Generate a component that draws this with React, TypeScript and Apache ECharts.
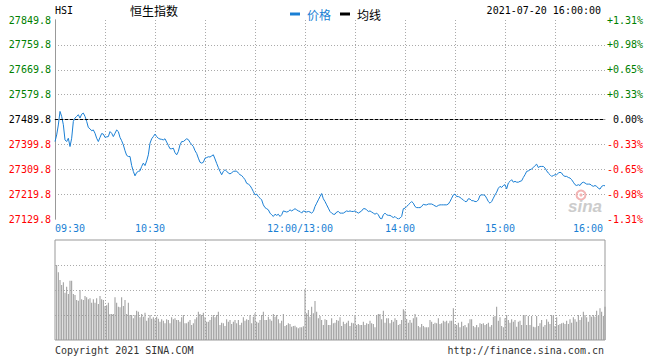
import { useEffect, useRef } from "react";
import * as echarts from "echarts";

const PREV_CLOSE = 27489.8;

// minute index (lunch break removed): 0 = 09:30 ... 150 = 12:00/13:00 ... 330 = 16:00
const TICK_POS = [0, 60, 150, 210, 270, 330];
const TICK_TEXT = ["09:30", "10:30", "12:00/13:00", "14:00", "15:00", "16:00"];

const PRICE = [
  27410, 27434, 27470, 27519, 27501, 27471, 27416, 27410, 27422, 27392,
  27422, 27483, 27495, 27501, 27507, 27495, 27509, 27513, 27501, 27483,
  27461, 27456, 27449, 27452, 27440, 27422, 27410, 27425, 27439, 27437,
  27425, 27427, 27428, 27446, 27440, 27428, 27440, 27452, 27446, 27425,
  27413, 27398, 27377, 27360, 27356, 27356, 27323, 27302, 27286, 27298,
  27302, 27304, 27320, 27332, 27323, 27340, 27362, 27404, 27420, 27428,
  27437, 27428, 27422, 27419, 27418, 27416, 27420, 27408, 27396, 27384,
  27384, 27386, 27370, 27362, 27374, 27398, 27410, 27410, 27415, 27420,
  27417, 27407, 27399, 27392, 27377, 27367, 27350, 27335, 27332, 27335,
  27350, 27352, 27355, 27354, 27358, 27362, 27347, 27331, 27316, 27302,
  27290, 27302, 27308, 27303, 27296, 27293, 27297, 27302, 27303, 27303,
  27296, 27290, 27287, 27280, 27272, 27259, 27256, 27251, 27241, 27229,
  27217, 27220, 27211, 27205, 27199, 27181, 27171, 27167, 27163, 27151,
  27145, 27139, 27147, 27143, 27147, 27139, 27145, 27159, 27157, 27155,
  27157, 27163, 27159, 27163, 27167, 27163, 27159, 27157, 27151, 27159,
  27157, 27155, 27157, 27155, 27151, 27157, 27175, 27187, 27199, 27211,
  27222, 27203, 27193, 27181, 27169, 27157, 27151, 27147, 27147, 27155,
  27157, 27151, 27151, 27151, 27155, 27159, 27157, 27159, 27157, 27157,
  27159, 27155, 27151, 27155, 27159, 27167, 27167, 27163, 27157, 27159,
  27155, 27151, 27147, 27151, 27145, 27133, 27130, 27145, 27151, 27145,
  27143, 27143, 27139, 27135, 27139, 27133, 27129.8, 27133, 27139, 27167,
  27169, 27175, 27181, 27187, 27193, 27187, 27175, 27171, 27171, 27171,
  27175, 27183, 27181, 27181, 27184, 27184, 27184, 27181, 27177, 27175,
  27179, 27181, 27181, 27181, 27181, 27181, 27184, 27193, 27205, 27217,
  27220, 27211, 27211, 27208, 27203, 27199, 27193, 27193, 27203, 27202,
  27196, 27196, 27193, 27193, 27199, 27215, 27217, 27217, 27215, 27205,
  27193, 27187, 27193, 27205, 27217, 27227, 27241, 27248, 27244, 27251,
  27254, 27239, 27260, 27266, 27272, 27263, 27266, 27263, 27263, 27266,
  27268, 27280, 27290, 27302, 27304, 27308, 27311, 27316, 27323, 27328,
  27316, 27320, 27320, 27320, 27314, 27304, 27296, 27290, 27284, 27287,
  27290, 27290, 27296, 27299, 27296, 27287, 27284, 27284, 27280, 27278,
  27272, 27263, 27254, 27251, 27254, 27251, 27260, 27263, 27260, 27256,
  27256, 27256, 27251, 27248, 27251, 27248, 27241, 27238, 27248, 27251, 27250,
];

// volume per minute, minutes 1..330
const VOLUME = [
  300, 271, 240, 220, 231, 189, 213, 184, 237, 237,
  184, 180, 160, 157, 200, 163, 160, 176, 171, 163,
  167, 149, 163, 149, 167, 144, 176, 163, 160, 136,
  139, 149, 104, 104, 104, 171, 149, 133, 131, 171,
  136, 160, 104, 149, 100, 100, 87, 100, 117, 113,
  91, 104, 93, 109, 77, 89, 100, 85, 91, 83,
  93, 85, 73, 83, 77, 67, 83, 80, 67, 91,
  83, 87, 80, 80, 73, 91, 100, 67, 67, 73,
  80, 60, 67, 83, 91, 113, 104, 100, 109, 91,
  73, 73, 80, 93, 100, 91, 100, 113, 60, 69,
  67, 56, 83, 73, 80, 64, 73, 80, 67, 80,
  60, 69, 91, 77, 83, 80, 100, 67, 93, 107,
  73, 69, 80, 100, 113, 80, 80, 93, 83, 77,
  104, 93, 100, 83, 67, 77, 104, 56, 60, 67,
  64, 53, 56, 57, 51, 47, 51, 51, 55, 203,
  107, 120, 93, 133, 107, 156, 113, 87, 96, 80,
  60, 83, 80, 60, 60, 87, 67, 69, 80, 77,
  91, 56, 73, 64, 69, 77, 56, 69, 67, 100,
  60, 64, 60, 60, 73, 60, 67, 64, 77, 67,
  64, 51, 100, 104, 104, 83, 117, 69, 87, 87,
  67, 80, 73, 87, 80, 60, 64, 80, 123, 117,
  84, 69, 80, 69, 87, 104, 91, 56, 51, 64,
  56, 51, 51, 51, 80, 73, 64, 69, 67, 87,
  64, 67, 77, 73, 77, 67, 77, 77, 127, 64,
  60, 69, 51, 73, 56, 60, 51, 67, 83, 83,
  56, 51, 60, 51, 67, 64, 67, 60, 64, 69,
  53, 60, 93, 96, 133, 77, 91, 56, 51, 87,
  100, 80, 69, 83, 73, 80, 53, 73, 77, 60,
  100, 100, 60, 96, 60, 96, 53, 51, 96, 56,
  67, 80, 53, 60, 83, 73, 64, 100, 96, 56,
  91, 60, 64, 67, 69, 64, 77, 64, 83, 69,
  91, 83, 73, 100, 80, 91, 113, 100, 91, 73,
  100, 93, 100, 93, 117, 96, 127, 113, 96, 133,
];

const BLUE = "#1a7fd4";
const GREEN = "#008000";
const RED = "#ff0000";
const GRAY = "#999999";
const MONO = '"DejaVu Sans Mono", monospace';
const CJK = '"Noto Sans CJK SC", sans-serif';

const dotted = { color: "#aaaaaa", type: [1, 2] as number[], width: 1 };

function signColor(v: number) {
  if (v > 0.001) return GREEN;
  if (v < -0.001) return RED;
  return "#000000";
}

export default function App() {
  const ref = useRef<HTMLDivElement>(null);

  useEffect(() => {
    if (!ref.current) return;
    const chart = echarts.init(ref.current, null, { renderer: "svg" });

    const labelRich = {
      first: { padding: [0, 0, 0, 30], color: BLUE, fontFamily: MONO, fontSize: 10 },
      mid: { padding: [0, 10, 0, 0], color: BLUE, fontFamily: MONO, fontSize: 10 },
      last: { padding: [0, 34, 0, 0], color: BLUE, fontFamily: MONO, fontSize: 10 },
    };

    const option: any = {
      animation: false,
      backgroundColor: "#ffffff",
      legend: {
        left: 285,
        top: 3,
        icon: "rect",
        itemWidth: 10,
        itemHeight: 3,
        itemGap: 9,
        selectedMode: false,
        textStyle: { fontSize: 12, fontFamily: CJK, padding: [0, 0, 0, 2] },
        data: [
          { name: "价格", textStyle: { color: BLUE } },
          { name: "均线", textStyle: { color: "#000000" } },
        ],
      },
      grid: [
        { left: 55, top: 20, width: 550, height: 199, show: false },
        {
          left: 55,
          top: 240,
          width: 550,
          height: 100,
          show: true,
          borderColor: GRAY,
          borderWidth: 1,
          backgroundColor: "transparent",
        },
      ],
      xAxis: [
        {
          type: "value",
          gridIndex: 0,
          position: "bottom",
          min: 0,
          max: 330,
          interval: 30,
          axisLine: { show: false },
          axisTick: { show: false },
          splitLine: { show: true, showMinLine: false, showMaxLine: false, lineStyle: dotted },
          axisLabel: {
            show: true,
            margin: 4,
            color: BLUE,
            fontFamily: MONO,
            fontSize: 10,
            formatter: (v: number) => {
              const k = TICK_POS.indexOf(Math.round(v));
              if (k < 0) return "";
              const s = k === 0 ? "first" : k === TICK_POS.length - 1 ? "last" : "mid";
              return `{${s}|${TICK_TEXT[k]}}`;
            },
            rich: labelRich,
          },
        },
        {
          type: "value",
          gridIndex: 0,
          position: "top",
          min: 0,
          max: 330,
          axisLine: { show: true, lineStyle: { color: GRAY, width: 1 } },
          axisTick: { show: false },
          axisLabel: { show: false },
          splitLine: { show: false },
        },
        {
          type: "value",
          gridIndex: 1,
          min: 0,
          max: 330,
          interval: 30,
          axisLine: { show: false },
          axisTick: { show: false },
          axisLabel: { show: false },
          splitLine: { show: true, showMinLine: false, showMaxLine: false, lineStyle: dotted },
        },
      ],
      yAxis: [
        {
          type: "value",
          gridIndex: 0,
          position: "left",
          min: -360,
          max: 360,
          interval: 90,
          axisLine: { show: true, lineStyle: { color: GRAY, width: 1 } },
          axisTick: { show: false },
          splitLine: { show: true, showMinLine: false, showMaxLine: false, lineStyle: dotted },
          axisLabel: {
            margin: 4,
            fontFamily: MONO,
            fontSize: 10,
            padding: [0, 0, 5, 0],
            formatter: (v: number) => (PREV_CLOSE + v).toFixed(1),
            color: (val: any) => signColor(parseFloat(val)),
          },
        },
        {
          type: "value",
          gridIndex: 0,
          position: "right",
          min: -360,
          max: 360,
          interval: 90,
          axisLine: { show: true, lineStyle: { color: GRAY, width: 1 } },
          axisTick: { show: false },
          splitLine: { show: false },
          axisLabel: {
            margin: 38,
            align: "right",
            fontFamily: MONO,
            fontSize: 10,
            padding: [0, 0, 5, 0],
            formatter: (v: number) => {
              const p = (v / PREV_CLOSE) * 100;
              const s = Math.abs(p).toFixed(2) + "%";
              if (Math.abs(v) < 0.001) return "0.00%";
              return (p > 0 ? "+" : "-") + s;
            },
            color: (val: any) => signColor(parseFloat(val)),
          },
        },
        {
          type: "value",
          gridIndex: 1,
          min: 0,
          max: 400,
          interval: 100,
          axisLine: { show: false },
          axisTick: { show: false },
          axisLabel: { show: false },
          splitLine: { show: true, showMinLine: false, showMaxLine: false, lineStyle: dotted },
        },
      ],
      series: [
        {
          name: "价格",
          type: "line",
          xAxisIndex: 0,
          yAxisIndex: 0,
          data: PRICE.map((p, i) => [i, +(p - PREV_CLOSE).toFixed(2)]),
          showSymbol: false,
          symbol: "none",
          lineStyle: { color: BLUE, width: 1 },
          itemStyle: { color: BLUE },
          z: 3,
          markLine: {
            silent: true,
            symbol: ["none", "none"],
            label: { show: false },
            lineStyle: { color: "#000000", type: [3, 2], width: 1 },
            data: [{ yAxis: 0 }],
          },
        },
        {
          name: "均线",
          type: "line",
          xAxisIndex: 0,
          yAxisIndex: 0,
          data: [],
          showSymbol: false,
          lineStyle: { color: "#000000", width: 1 },
          itemStyle: { color: "#000000" },
        },
        {
          name: "成交量",
          type: "bar",
          xAxisIndex: 2,
          yAxisIndex: 2,
          barWidth: 1,
          silent: true,
          itemStyle: { color: GRAY },
          data: VOLUME.map((v, k) => [k + 1, v]),
        },
      ],
      graphic: [
        {
          type: "text",
          x: 55,
          y: 10,
          style: { text: "HSI", font: `10px ${MONO}`, fill: "#000", align: "left", verticalAlign: "middle", textAlign: "left", textVerticalAlign: "middle" },
        },
        {
          type: "text",
          x: 130,
          y: 10,
          style: { text: "恒生指数", font: `12px ${CJK}`, fill: "#000", align: "left", verticalAlign: "middle", textAlign: "left", textVerticalAlign: "middle" },
        },
        {
          type: "text",
          x: 601,
          y: 10,
          style: { text: "2021-07-20 16:00:00", font: `10px ${MONO}`, fill: "#000", align: "right", verticalAlign: "middle", textAlign: "right", textVerticalAlign: "middle" },
        },
        {
          type: "text",
          x: 55,
          y: 350,
          style: { text: "Copyright 2021 SINA.COM", font: `10px ${MONO}`, fill: "#333", align: "left", verticalAlign: "middle", textAlign: "left", textVerticalAlign: "middle" },
        },
        {
          type: "text",
          x: 604,
          y: 350,
          style: { text: "http://finance.sina.com.cn", font: `10px ${MONO}`, fill: "#333", align: "right", verticalAlign: "middle", textAlign: "right", textVerticalAlign: "middle" },
        },
        {
          type: "circle",
          shape: { cx: 581, cy: 195, r: 4.5 },
          style: { fill: "none", stroke: "#f3b4b4", lineWidth: 2 },
          z: 1,
        },
        {
          type: "circle",
          shape: { cx: 581, cy: 195, r: 1.6 },
          style: { fill: "#f3b4b4" },
          z: 1,
        },
        {
          type: "text",
          x: 568,
          y: 206,
          z: 1,
          style: {
            text: "sina",
            font: 'italic bold 17px "Liberation Sans", sans-serif',
            fill: "#cccccc",
            align: "left",
            verticalAlign: "middle",
            textAlign: "left",
            textVerticalAlign: "middle",
          },
        },
      ],
    };

    chart.setOption(option);
    return () => chart.dispose();
  }, []);

  return (
    <div
      ref={ref}
      style={{ position: "absolute", left: 0, top: 0, width: 660, height: 360 }}
    />
  );
}
